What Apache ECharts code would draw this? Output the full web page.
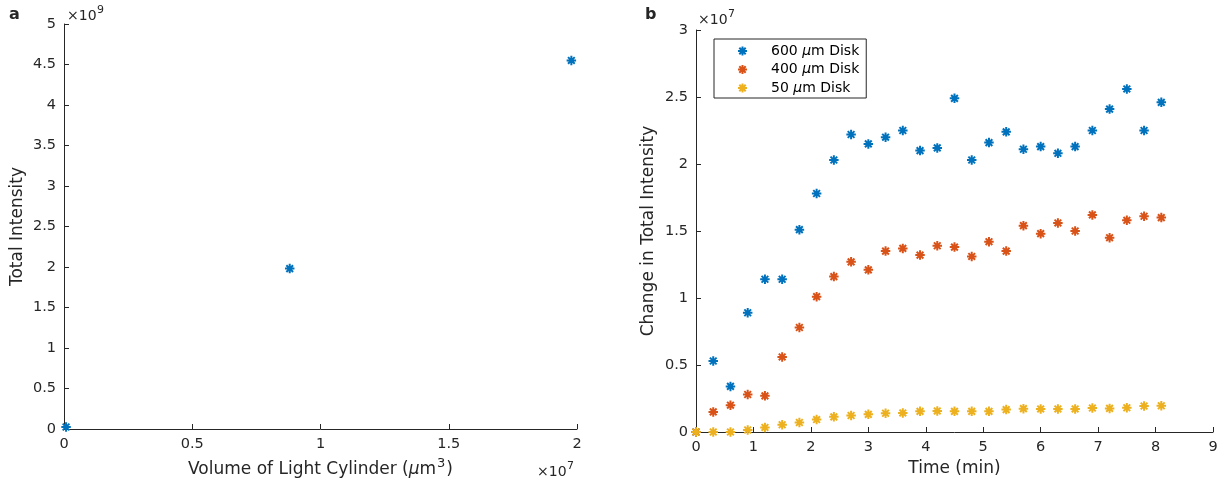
<!DOCTYPE html>
<html><head><meta charset="utf-8">
<script src="https://cdn.jsdelivr.net/npm/echarts@6/dist/echarts.min.js"></script>
<style>html,body{margin:0;padding:0;background:#fff}#c{width:1225px;height:487px}</style>
</head><body><div id="c"></div>
<script>
// ---------- Panel a ----------
const volumeE7 = [0.008, 0.88, 1.978];          // volume of light cylinder, x 10^7 um^3
const totalIntensityE9 = [0.025, 1.98, 4.55];    // total intensity, x 10^9
const aXTicks = [0, 0.5, 1, 1.5, 2];
const aYTicks = [0, 0.5, 1, 1.5, 2, 2.5, 3, 3.5, 4, 4.5, 5];

// ---------- Panel b ----------
const timeMin = [0, 0.3, 0.6, 0.9, 1.2, 1.5, 1.8, 2.1, 2.4, 2.7, 3.0, 3.3, 3.6, 3.9,
                 4.2, 4.5, 4.8, 5.1, 5.4, 5.7, 6.0, 6.3, 6.6, 6.9, 7.2, 7.5, 7.8, 8.1];
const disk600 = [0, 0.53, 0.34, 0.89, 1.14, 1.14, 1.51, 1.78, 2.03, 2.22, 2.15, 2.20, 2.25, 2.10,
                 2.12, 2.49, 2.03, 2.16, 2.24, 2.11, 2.13, 2.08, 2.13, 2.25, 2.41, 2.56, 2.25, 2.46];
const disk400 = [0, 0.15, 0.20, 0.28, 0.27, 0.56, 0.78, 1.01, 1.16, 1.27, 1.21, 1.35, 1.37, 1.32,
                 1.39, 1.38, 1.31, 1.42, 1.35, 1.54, 1.48, 1.56, 1.50, 1.62, 1.45, 1.58, 1.61, 1.60];
const disk50  = [0, 0, 0, 0.015, 0.034, 0.054, 0.071, 0.093, 0.113, 0.123, 0.132, 0.14, 0.142, 0.154,
                 0.157, 0.154, 0.154, 0.154, 0.167, 0.174, 0.172, 0.172, 0.172, 0.179, 0.176, 0.181, 0.194, 0.196];
const seriesNames = ['600 μm Disk', '400 μm Disk', '50 μm Disk'];
const bXTicks = [0, 1, 2, 3, 4, 5, 6, 7, 8, 9];
const bYTicks = [0, 0.5, 1, 1.5, 2, 2.5, 3];

const colors = ['#0072BD', '#D95319', '#EDB120'];
const AX = '#262626';
const FONT = 'DejaVu Sans';
const STAR = 'path://M0,-1L0,1M-1,0L1,0M-0.7071,-0.7071L0.7071,0.7071M-0.7071,0.7071L0.7071,-0.7071';

function ticksRange(t) { return { min: t[0], max: t[t.length - 1], interval: t[1] - t[0] }; }

function axis(extra) {
  return Object.assign({
    type: 'value',
    axisLine: { show: true, onZero: false, lineStyle: { color: AX, width: 1 } },
    axisTick: { show: true, inside: true, length: 5, lineStyle: { color: AX, width: 1 } },
    axisLabel: { color: AX, fontSize: 14.5, fontFamily: FONT, margin: 8 },
    splitLine: { show: false },
    nameLocation: 'middle',
    nameTextStyle: { color: AX, fontSize: 17, fontFamily: FONT }
  }, extra);
}

function starSeries(name, xi, yi, xs, ys, color) {
  return {
    type: 'scatter', name: name, xAxisIndex: xi, yAxisIndex: yi,
    data: xs.map((x, i) => [x, ys[i]]),
    symbol: STAR, symbolSize: 9.5, symbolKeepAspect: true,
    itemStyle: { color: 'rgba(0,0,0,0)', borderColor: color, borderWidth: 2, opacity: 1 },
    emphasis: { disabled: true }, silent: true
  };
}

const chart = echarts.init(document.getElementById('c'), null, { renderer: 'canvas' });
chart.setOption({
  animation: false,
  backgroundColor: '#ffffff',
  textStyle: { fontFamily: FONT },
  grid: [
    { left: 64, top: 24, width: 513, height: 405 },
    { left: 696, top: 30, width: 517, height: 402 }
  ],
  xAxis: [
    axis(Object.assign({ gridIndex: 0, nameGap: 22,
      name: '{n|Volume of Light Cylinder (}{i|μ}{n|m}{s|3}{n|)}',
      nameTextStyle: { color: AX, fontFamily: FONT, fontSize: 17,
        rich: { n: { fontSize: 17, color: AX, fontFamily: FONT },
                i: { fontSize: 17, color: AX, fontFamily: FONT, fontStyle: 'italic' },
                s: { fontSize: 13, color: AX, fontFamily: FONT, verticalAlign: 'top', padding: [0, 1, 12, 1] } } }
    }, ticksRange(aXTicks))),
    axis(Object.assign({ gridIndex: 1, nameGap: 28, name: 'Time (min)' }, ticksRange(bXTicks)))
  ],
  yAxis: [
    axis(Object.assign({ gridIndex: 0, nameGap: 38, name: 'Total Intensity' }, ticksRange(aYTicks))),
    axis(Object.assign({ gridIndex: 1, nameGap: 39, name: 'Change in Total Intensity' }, ticksRange(bYTicks)))
  ],
  legend: {
    data: seriesNames,
    orient: 'vertical', left: 714, top: 39,
    padding: [5, 7, 3, 23],
    itemWidth: 9, itemHeight: 9, itemGap: 4.5,
    borderColor: AX, borderWidth: 1, backgroundColor: '#fff',
    symbolKeepAspect: true,
    itemStyle: { borderWidth: 2 },
    selectedMode: false,
    textStyle: { color: '#000', fontSize: 14, fontFamily: FONT, lineHeight: 14, padding: [0, 0, 0, 19],
      rich: { i: { fontStyle: 'italic', fontSize: 14, fontFamily: FONT, color: '#000', lineHeight: 14 } } },
    formatter: name => name.replace('μ', '{i|μ}')
  },
  series: [
    starSeries('Total', 0, 0, volumeE7, totalIntensityE9, colors[0]),
    starSeries(seriesNames[0], 1, 1, timeMin, disk600, colors[0]),
    starSeries(seriesNames[1], 1, 1, timeMin, disk400, colors[1]),
    starSeries(seriesNames[2], 1, 1, timeMin, disk50, colors[2])
  ],
  graphic: [
    { type: 'text', left: 9, top: 7, style: { text: 'a', font: 'bold 16px DejaVu Sans', fill: AX } },
    { type: 'text', left: 645, top: 7, style: { text: 'b', font: 'bold 16px DejaVu Sans', fill: AX } },
    // exponent markers
    { type: 'text', x: 67, y: 16.5, style: { text: '×10', font: '14px DejaVu Sans', fill: AX, verticalAlign: 'middle' } },
    { type: 'text', x: 97, y: 10.5, style: { text: '9', font: '11px DejaVu Sans', fill: AX, verticalAlign: 'middle' } },
    { type: 'text', x: 698, y: 20.5, style: { text: '×10', font: '14px DejaVu Sans', fill: AX, verticalAlign: 'middle' } },
    { type: 'text', x: 728, y: 14.5, style: { text: '7', font: '11px DejaVu Sans', fill: AX, verticalAlign: 'middle' } },
    { type: 'text', x: 537, y: 472, style: { text: '×10', font: '14px DejaVu Sans', fill: AX, verticalAlign: 'middle' } },
    { type: 'text', x: 567, y: 466, style: { text: '7', font: '11px DejaVu Sans', fill: AX, verticalAlign: 'middle' } }
  ]
});
</script>
</body></html>
